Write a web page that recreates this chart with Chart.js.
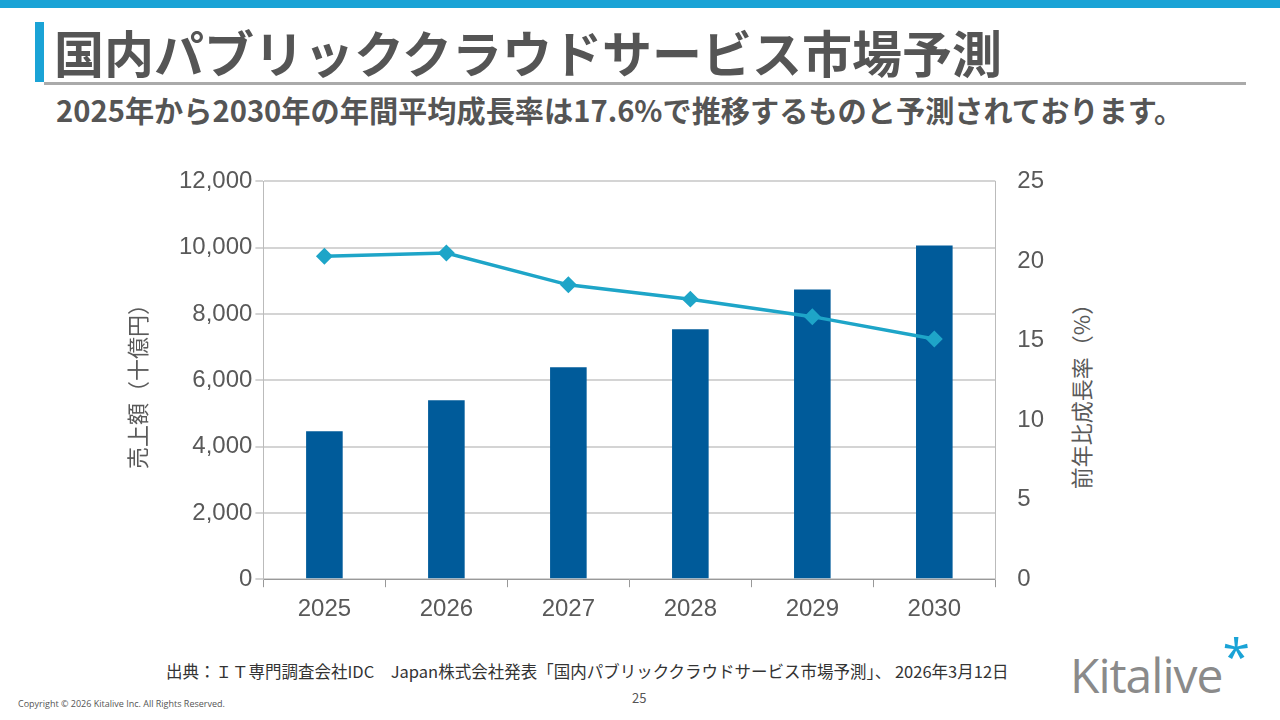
<!DOCTYPE html>
<html><head><meta charset="utf-8">
<script src="https://cdn.jsdelivr.net/npm/chart.js@4"></script>
<style>
body{margin:0;width:1280px;height:720px;position:relative;background:#fff;font-family:"Noto Sans CJK JP","Noto Sans",sans-serif;overflow:hidden}
.top{position:absolute;left:0;top:0;width:1280px;height:8px;background:#1aa3d6}
.vbar{position:absolute;left:35px;top:22px;width:9px;height:60px;background:#1aa3d6}
.title{position:absolute;left:54px;top:18px;font-size:50px;font-weight:bold;color:#555;line-height:66px}
.line{position:absolute;left:44px;top:82px;width:1202px;height:3px;background:#aaa}
.sub{position:absolute;left:56px;top:88px;font-size:29.2px;font-weight:bold;color:#555;white-space:nowrap}
#wrap{position:absolute;left:130px;top:153px;width:928px;height:479px}
.yt{position:absolute;font-size:22px;color:#595959;transform:rotate(-90deg);white-space:nowrap;transform-origin:center}
.foot{position:absolute;left:166px;top:659px;font-size:16.5px;color:#333;white-space:nowrap}
.pg{position:absolute;left:632px;top:688px;font-size:13px;color:#555}
.copy{position:absolute;left:18px;top:697px;font-size:9px;color:#555;font-family:"Open Sans",sans-serif}
.logo{position:absolute;left:1070px;top:640px;font-size:48px;color:#8a8a8a;font-family:"Open Sans",sans-serif;letter-spacing:-1px}
.logo span{color:#1aa3d6;font-size:50px;position:relative;top:-18px}
</style></head><body>
<div class="top"></div><div class="vbar"></div>
<div class="title">国内パブリッククラウドサービス市場予測</div>
<div class="line"></div>
<div class="sub">2025年から2030年の年間平均成長率は17.6%で推移するものと予測されております。</div>
<div id="wrap"><canvas id="c" width="928" height="479"></canvas></div>
<div class="yt" style="left:48px;top:365px">売上額（十億円）</div>
<div class="yt" style="left:982px;top:375px">前年比成長率（%）</div>
<div class="foot">出典：ＩＴ専門調査会社IDC　Japan株式会社発表「国内パブリッククラウドサービス市場予測」、 2026年3月12日</div>
<div class="pg">25</div>
<div class="copy">Copyright © 2026 Kitalive Inc. All Rights Reserved.</div>
<div class="logo">Kitalive<span>*</span></div>
<script>
const years=['2025','2026','2027','2028','2029','2030'];
const sales=[4460,5400,6390,7540,8740,10070];
const growth=[20.3,20.5,18.5,17.6,16.5,15.1];
new Chart(document.getElementById('c'),{
 data:{labels:years,datasets:[
  {type:'line',data:growth,yAxisID:'y1',borderColor:'#1ea5c8',backgroundColor:'#1ea5c8',borderWidth:3.5,pointStyle:'rectRot',pointRadius:6,order:0},
  {type:'bar',data:sales,yAxisID:'y',backgroundColor:'#005b9a',barPercentage:0.3,categoryPercentage:1,order:1}
 ]},
 options:{responsive:false,animation:false,maintainAspectRatio:false,
  layout:{padding:{left:46,right:0,top:3,bottom:0}},
  plugins:{legend:{display:false},tooltip:{enabled:false}},
  scales:{
   x:{grid:{display:true,drawOnChartArea:false,color:'#999',tickLength:8},border:{color:'#999'},ticks:{color:'#595959',padding:8,font:{size:24,family:'Liberation Sans'}}},
   y:{min:0,max:12000,ticks:{stepSize:2000,color:'#595959',font:{size:24,family:'Liberation Sans'},callback:v=>v.toLocaleString('en-US')},grid:{color:'#d4d4d4',lineWidth:2},border:{color:'#bbb'}},
   y1:{position:'right',min:0,max:25,ticks:{stepSize:5,color:'#595959',font:{size:24,family:'Liberation Sans'},padding:14},grid:{display:false},border:{color:'#bbb'}}
  }}
});
</script>
</body></html>
